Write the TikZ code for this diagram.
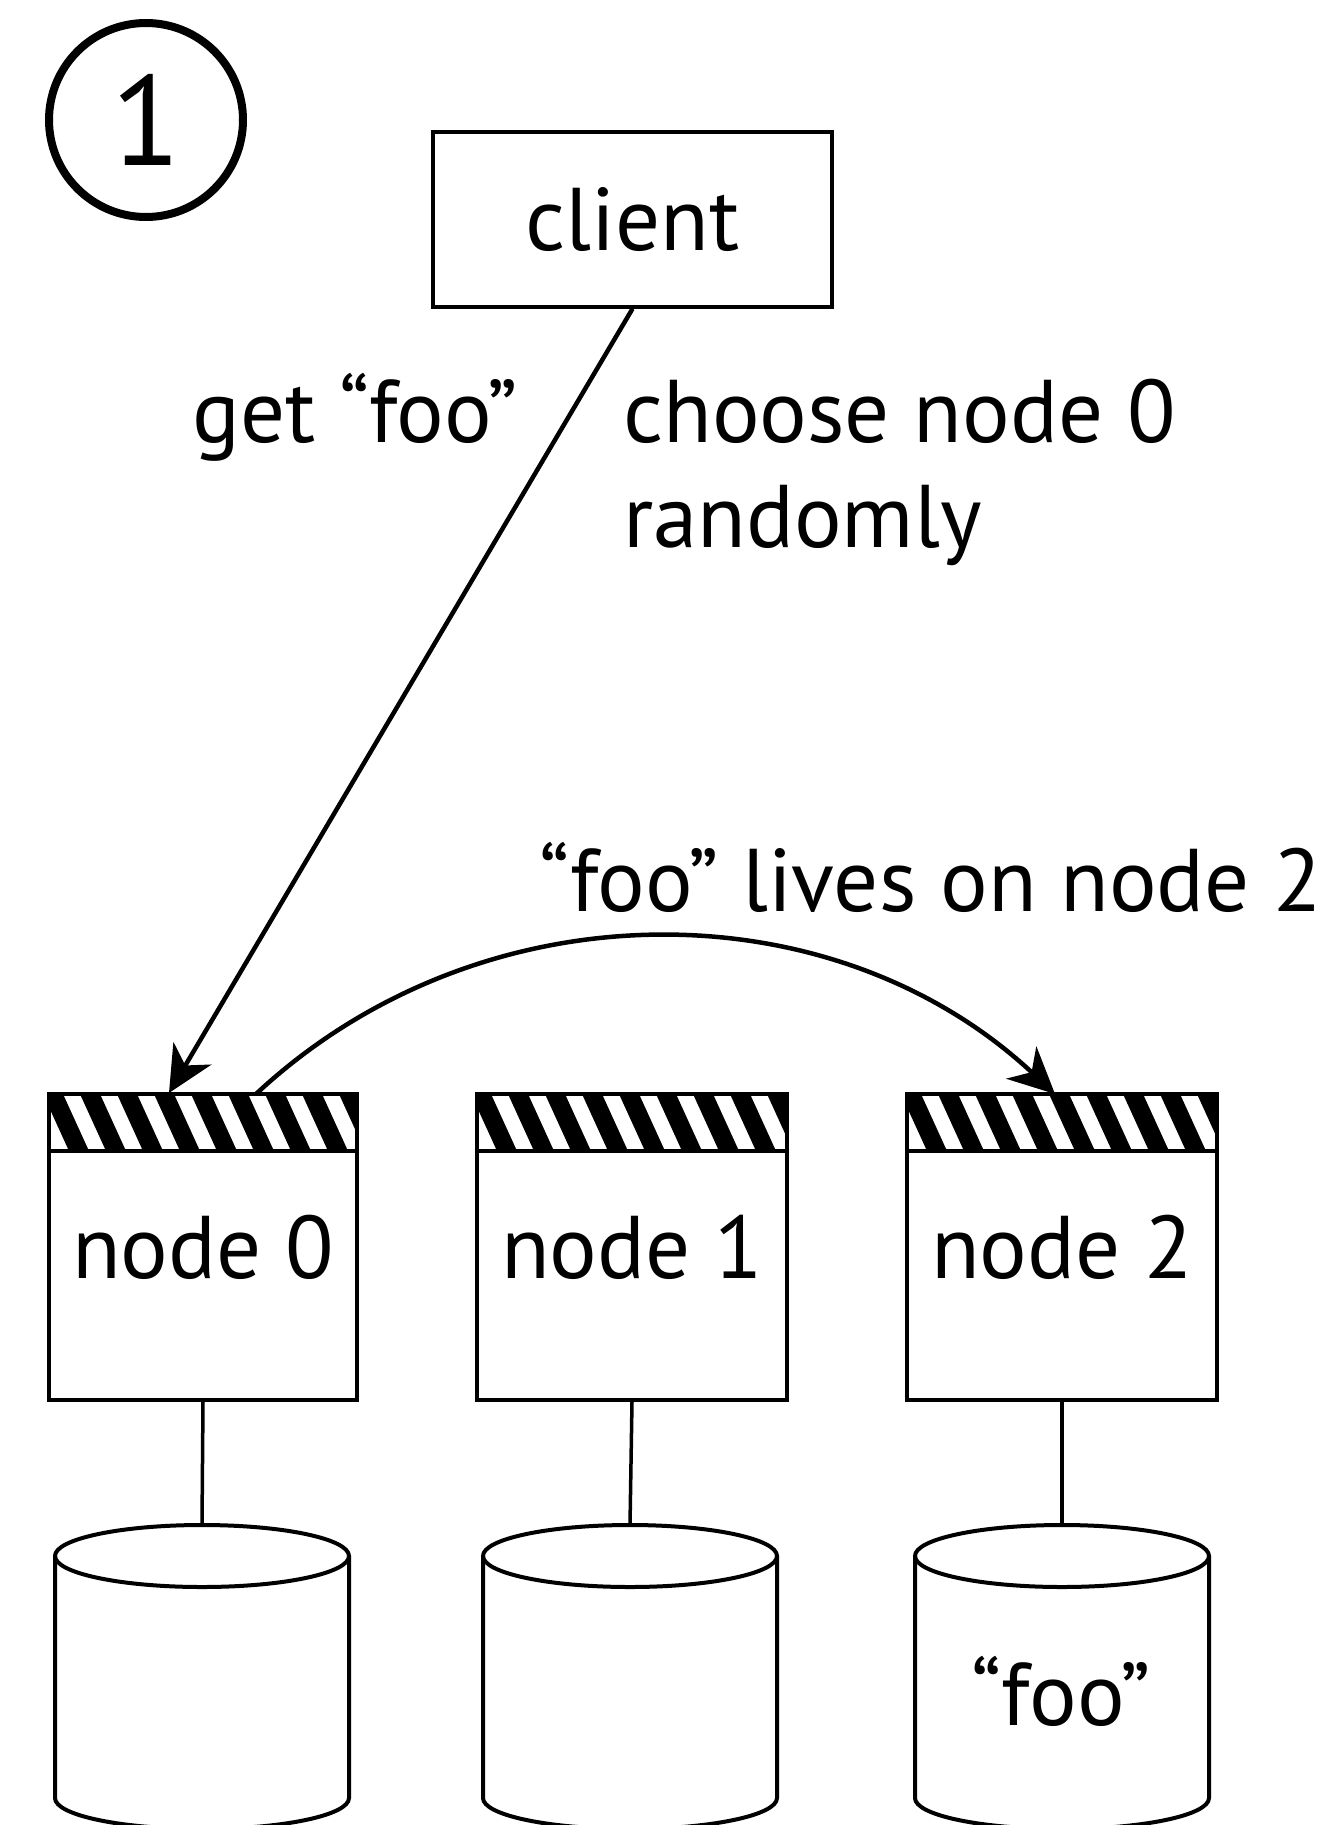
\documentclass[tikz,border=0pt]{standalone}
\usepackage{fontspec}
\setmainfont{PT Sans}
\usetikzlibrary{arrows.meta}
\begin{document}
\begin{tikzpicture}[x=1pt,y=-1pt,
  box/.style={draw, line width=3.5pt, rectangle, inner sep=0pt, font=\fontsize{89}{105}\selectfont},
  lbl/.style={font=\fontsize{89}{105}\selectfont, inner sep=0pt},
  arr/.style={line width=4.5pt, -{Stealth[length=46pt,width=44pt,inset=14pt]}},
  link/.style={line width=3.5pt},
  cyl/.style={line width=4pt}
]
\useasboundingbox (0,0) rectangle (1343,1825);
\clip (0,0) rectangle (1343,1825);

% step number
\node[draw, circle, line width=8pt, minimum size=194pt, inner sep=0pt,
      font=\fontsize{128}{128}\selectfont] (num) at (146,120) {1};

% client
\node[box, minimum width=399pt, minimum height=175pt] (client) at (632.5,219.5) {client};

% server nodes
\node[box, minimum width=308pt, minimum height=306pt] (n0) at (203,1247) {node 0};
\node[box, minimum width=310pt, minimum height=306pt] (n1) at (632,1247) {node 1};
\node[box, minimum width=310pt, minimum height=306pt] (n2) at (1062,1247) {node 2};

% hatched bands
\foreach \bx/\bw in {49/308,477/310,907/310}{
  \begin{scope}
    \clip (\bx,1094) rectangle (\bx+\bw,1151);
    \foreach \k in {-1,...,9}{
      \fill (\bx+\k*37-6,1094) -- ++(20,0) -- ++(26,57) -- ++(-20,0) -- cycle;
    }
  \end{scope}
  \draw[line width=3.5pt] (\bx,1151) -- (\bx+\bw,1151);
  \draw[line width=3.5pt] (\bx,1094) rectangle (\bx+\bw,1400);
}

% cylinders
\foreach \cx/\nm in {202/c0,630/c1,1062/c2}{
  \coordinate (\nm) at (\cx,1525);
  \draw[cyl] (\cx,1556) ellipse [x radius=147, y radius=31];
  \draw[cyl] (\cx-147,1556) -- (\cx-147,1798)
        arc[start angle=180, end angle=0, x radius=147, y radius=31]
        -- (\cx+147,1556);
}
\node[lbl, anchor=base] (foo) at (1061,1725) {“foo”};

% links node -> disk
\draw[link] (n0.south) -- (c0);
\draw[link] (n1.south) -- (c1);
\draw[link] (n2.south) -- (c2);

% request arrow
\coordinate (n0in) at (169,1093);
\draw[arr] (client.south) -- (n0in);
\node[lbl, anchor=base east] (get) at (518,442) {get “foo”};
\node[lbl, anchor=base west] (choose) at (623,442) {choose node 0};
\node[lbl, anchor=base west] (rand) at (623,547) {randomly};

% forward arrow
\coordinate (n0out) at (256,1094);
\coordinate (n2in) at (1055,1094);
\draw[arr] (n0out) .. controls (480,885) and (831,885) .. (n2in);
\node[lbl, anchor=base] (lives) at (931,911) {“foo” lives on node 2};
\end{tikzpicture}
\end{document}
